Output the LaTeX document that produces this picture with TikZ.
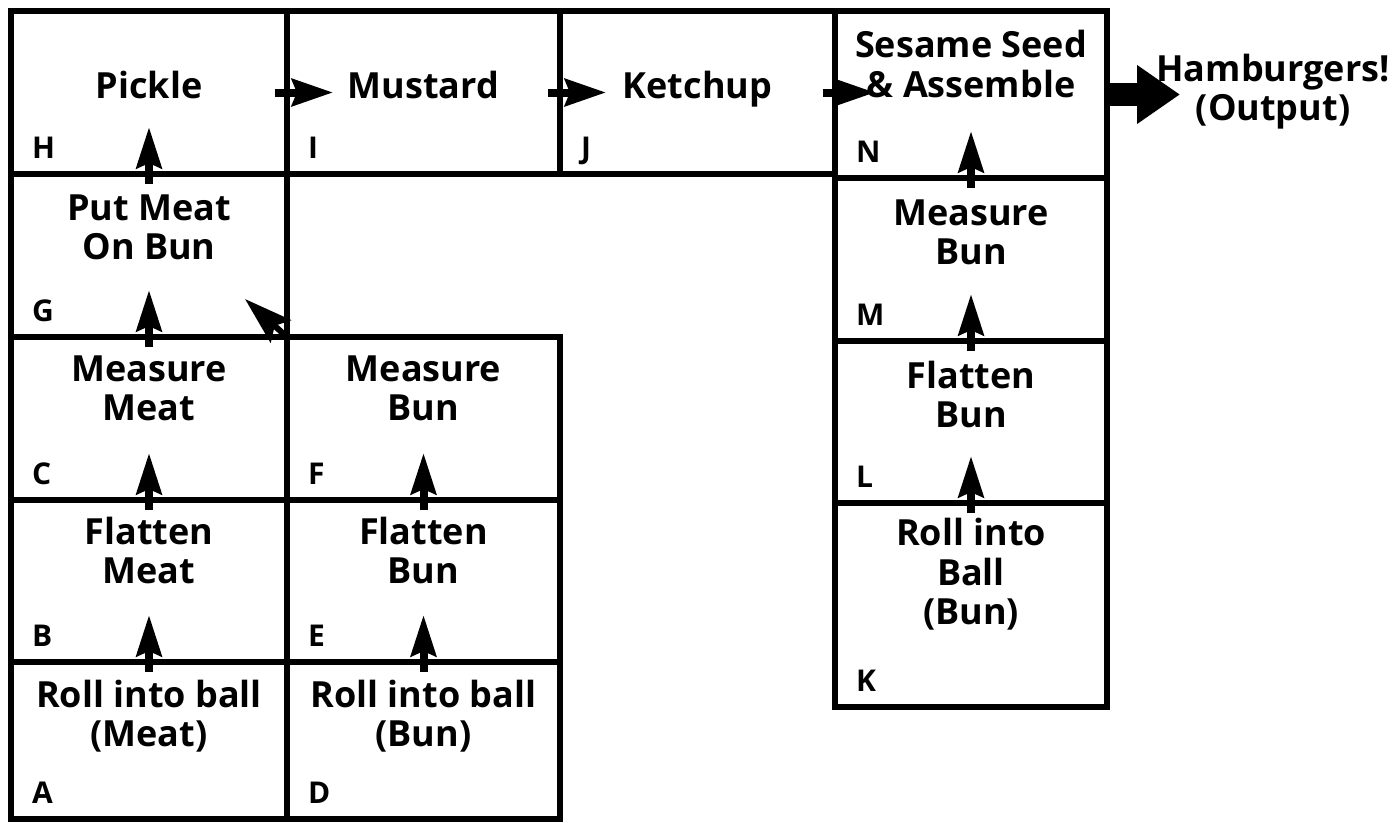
\documentclass[tikz,border=0pt]{standalone}
\usepackage{fontspec}
\setmainfont{Open Sans}
\usetikzlibrary{arrows.meta}
\begin{document}
\begin{tikzpicture}[x=1pt,y=-1pt,
  box/.style={draw, line width=6pt, rectangle, inner sep=0pt, outer sep=0pt, anchor=north west},
  txt/.style={anchor=north, inner sep=0pt, align=center, font=\fontsize{36}{39}\selectfont\bfseries},
  lbl/.style={anchor=base west, inner sep=0pt, font=\fontsize{30}{32}\selectfont\bfseries},
  varr/.style={line width=8pt, -{Stealth[length=41pt,width=25pt,inset=5pt]}},
  harr/.style={line width=8pt, -{Stealth[length=41pt,width=27pt,inset=5pt]}},
  darr/.style={line width=6pt, -{Stealth[length=48pt,width=30pt,inset=8pt]}},
  oarr/.style={line width=23pt, -{Triangle[length=43pt,width=56pt]}}
]
\useasboundingbox (0,0) rectangle (1396,822);
% boxes
\node[box, minimum width=276pt, minimum height=163pt] (H) at (11,11) {};
\node[box, minimum width=273pt, minimum height=163pt] (I) at (287,11) {};
\node[box, minimum width=275pt, minimum height=163pt] (J) at (560,11) {};
\node[box, minimum width=272pt, minimum height=167pt] (N) at (835,11) {};
\node[box, minimum width=276pt, minimum height=163pt] (G) at (11,174) {};
\node[box, minimum width=276pt, minimum height=163pt] (C) at (11,337) {};
\node[box, minimum width=273pt, minimum height=163pt] (F) at (287,337) {};
\node[box, minimum width=276pt, minimum height=162pt] (B) at (11,500) {};
\node[box, minimum width=273pt, minimum height=162pt] (E) at (287,500) {};
\node[box, minimum width=276pt, minimum height=157pt] (A) at (11,662) {};
\node[box, minimum width=273pt, minimum height=157pt] (D) at (287,662) {};
\node[box, minimum width=272pt, minimum height=163pt] (M) at (835,178) {};
\node[box, minimum width=272pt, minimum height=162pt] (L) at (835,341) {};
\node[box, minimum width=272pt, minimum height=204pt] (K) at (835,503) {};
% texts
\node[txt] (Ht) at ([yshift=-60pt]H.north) {\strut Pickle};
\node[txt] (It) at ([yshift=-60pt]I.north) {\strut Mustard};
\node[txt] (Jt) at ([yshift=-60pt]J.north) {\strut Ketchup};
\node[txt] (Nt) at ([yshift=-19pt]N.north) {\strut Sesame Seed\\\strut \& Assemble};
\node[txt] (Gt) at ([yshift=-19pt]G.north) {\strut Put Meat\\\strut On Bun};
\node[txt] (Ct) at ([yshift=-17pt]C.north) {\strut Measure\\\strut Meat};
\node[txt] (Ft) at ([yshift=-17pt]F.north) {\strut Measure\\\strut Bun};
\node[txt] (Bt) at ([yshift=-17pt]B.north) {\strut Flatten\\\strut Meat};
\node[txt] (Et) at ([yshift=-17pt]E.north) {\strut Flatten\\\strut Bun};
\node[txt] (At) at ([yshift=-18pt]A.north) {\strut Roll into ball\\\strut (Meat)};
\node[txt] (Dt) at ([yshift=-18pt]D.north) {\strut Roll into ball\\\strut (Bun)};
\node[txt] (Mt) at ([yshift=-20pt]M.north) {\strut Measure\\\strut Bun};
\node[txt] (Lt) at ([yshift=-20pt]L.north) {\strut Flatten\\\strut Bun};
\node[txt] (Kt) at ([yshift=-15pt]K.north) {\strut Roll into\\\strut Ball\\\strut (Bun)};
\node[txt] (out) at (1273,54) {\strut Hamburgers!\\\strut (Output)};
% letters
\foreach \n in {H,I,J,N,G,C,F,B,E,A,D,M,L,K}{
  \node[lbl] (\n l) at ([xshift=21pt,yshift=16pt]\n.south west) {\n};
}
% vertical arrows
\draw[varr] ([yshift=-10pt]A.north) -- ([yshift=47pt]A.north);
\draw[varr] ([yshift=-10pt]B.north) -- ([yshift=47pt]B.north);
\draw[varr] ([yshift=-10pt]C.north) -- ([yshift=47pt]C.north);
\draw[varr] ([yshift=-10pt]G.north) -- ([yshift=47pt]G.north);
\draw[varr] ([yshift=-10pt]D.north) -- ([yshift=47pt]D.north);
\draw[varr] ([yshift=-10pt]E.north) -- ([yshift=47pt]E.north);
\draw[varr] ([yshift=-10pt]K.north) -- ([yshift=47pt]K.north);
\draw[varr] ([yshift=-10pt]L.north) -- ([yshift=47pt]L.north);
\draw[varr] ([yshift=-10pt]M.north) -- ([yshift=47pt]M.north);
% horizontal arrows
\draw[harr] ([xshift=-12pt]H.east) -- ([xshift=46pt]H.east);
\draw[harr] ([xshift=-12pt]I.east) -- ([xshift=46pt]I.east);
\draw[harr] ([xshift=-12pt]J.east) -- ([xshift=40pt]J.east);
% diagonal arrow F -> G
\coordinate (gtip) at ([xshift=-42pt,yshift=38pt]F.north west);
\draw[darr] (F.north west) -- (gtip);
% output arrow
\coordinate (otip) at ([xshift=73pt]N.east);
\draw[oarr] (N.east) -- (otip);
\end{tikzpicture}
\end{document}
